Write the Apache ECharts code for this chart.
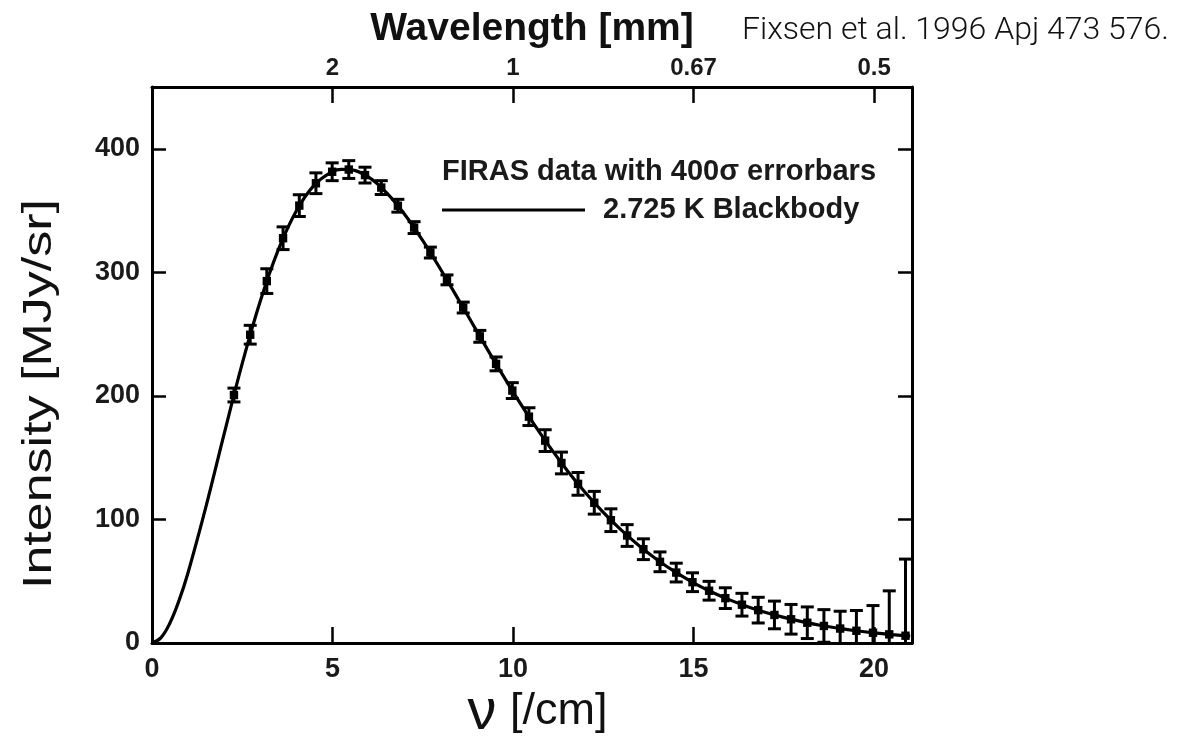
<!DOCTYPE html>
<html><head><meta charset="utf-8">
<script src="https://cdn.jsdelivr.net/npm/echarts@6/dist/echarts.min.js"></script>
<style>html,body{margin:0;padding:0;background:#fff}#c{width:1188px;height:740px}</style>
</head><body><div id="c"></div>
<script>
// 2.725 K blackbody curve (nu in /cm, intensity in MJy/sr)
const curveNu = [0,0.25,0.5,0.75,1,1.5,2,2.5,3,3.5,4,4.5,5,5.25,5.5,6,6.5,7,7.5,8,8.5,9,9.5,10,10.5,11,11.5,12,12.5,13,13.5,14,14.5,15,15.5,16,16.5,17,17.5,18,18.5,19,19.5,20,20.5,21];
const curveI  = [0,4.4,16.4,34.5,57.1,111.0,169.5,226.3,276.8,318.4,349.9,370.8,381.6,383.4,383.1,377.0,364.3,346.8,325.6,302.1,277.4,252.2,227.3,203.3,180.5,159.3,139.7,121.8,105.7,91.3,78.5,67.2,57.3,48.7,41.3,34.9,29.4,24.7,20.7,17.3,14.4,12.0,9.9,8.2,6.8,5.6];
// FIRAS data points with 400 sigma error bars
const dataNu  = [2.27,2.72,3.18,3.63,4.08,4.54,4.99,5.45,5.90,6.35,6.81,7.26,7.71,8.17,8.62,9.08,9.53,9.98,10.44,10.89,11.34,11.80,12.25,12.71,13.16,13.61,14.07,14.52,14.97,15.43,15.88,16.34,16.79,17.24,17.70,18.15,18.61,19.06,19.51,19.97,20.42,20.87];
const dataI   = [200.7,249.5,292.9,327.6,354.0,372.1,381.4,383.2,378.7,368.6,353.9,336.2,316.0,293.9,271.5,248.2,225.9,204.3,183.2,163.8,145.7,128.8,113.5,99.4,87.0,75.9,65.7,57.0,49.2,42.3,36.3,31.0,26.6,22.7,19.2,16.4,13.8,11.7,9.9,8.3,7.0,5.9];
const dataErr = [5.6,7.6,10.0,9.2,8.8,8.4,7.2,7.2,6.4,5.6,5.2,4.8,4.4,4.0,4.4,4.8,5.6,6.4,7.2,8.8,8.8,9.2,9.2,9.2,8.8,8.4,8.0,7.6,7.6,7.6,8.4,9.2,10.4,11.2,12.0,12.8,13.2,14.0,16.4,22.0,35.2,62.0];
// top axis: wavelength labels at these wavenumbers
const topTickNu = [5,10,15,20];
const topTickLabels = ['2','1','0.67','0.5'];

const chart = echarts.init(document.getElementById('c'));
const FONT = 'Liberation Sans, Arial, Helvetica, sans-serif';
const lineData = curveNu.map((v,i)=>[v, curveI[i]]);
const errData = dataNu.map((v,i)=>[v, dataI[i], dataErr[i]]);

const axisLineStyle = {color:'#000', width:3};
const tickStyle = {color:'#000', width:2.5};
const labelStyle = {fontFamily:FONT, fontWeight:'bold', fontSize:27, color:'#1a1a1a'};

chart.setOption({
  animation:false,
  backgroundColor:'#fff',
  grid:{left:152, right:276, top:87, bottom:97, containLabel:false},
  xAxis:[
    {type:'value', position:'bottom', min:0, max:21.05, interval:5,
     axisLine:{show:true, onZero:false, lineStyle:axisLineStyle},
     axisTick:{show:true, inside:true, length:16, lineStyle:tickStyle},
     axisLabel:Object.assign({margin:13, showMaxLabel:false}, labelStyle),
     splitLine:{show:false}
    },
    {type:'value', position:'top', min:0, max:21.05, interval:5,
     axisLine:{show:true, onZero:false, lineStyle:axisLineStyle},
     axisTick:{show:true, inside:true, length:16, lineStyle:tickStyle},
     axisLabel:{margin:7, showMaxLabel:false, showMinLabel:false, fontSize:24,
       fontFamily:FONT, fontWeight:'bold', color:'#1a1a1a',
       formatter:v=>{const k=topTickNu.indexOf(v); return k>=0?topTickLabels[k]:'';}},
     splitLine:{show:false},
     name:'Wavelength [mm]', nameLocation:'middle', nameGap:38,
     nameTextStyle:{fontFamily:FONT, fontWeight:'bold', fontSize:39, color:'#111'}
    }
  ],
  yAxis:[
    {type:'value', position:'left', min:0, max:450, interval:100,
     axisLine:{show:true, onZero:false, lineStyle:axisLineStyle},
     axisTick:{show:true, inside:true, length:14, lineStyle:tickStyle},
     axisLabel:Object.assign({margin:12, showMaxLabel:false}, labelStyle),
     splitLine:{show:false}
    },
    {type:'value', position:'right', min:0, max:450, interval:100,
     axisLine:{show:true, onZero:false, lineStyle:axisLineStyle},
     axisTick:{show:true, inside:true, length:14, lineStyle:tickStyle},
     axisLabel:{show:false}, splitLine:{show:false}
    }
  ],
  series:[
    {type:'line', name:'2.725 K Blackbody', data:lineData, smooth:0.4, showSymbol:false, symbol:'none',
     xAxisIndex:0, yAxisIndex:0, lineStyle:{color:'#000', width:3.2}, z:3},
    {type:'custom', name:'FIRAS', data:errData, xAxisIndex:0, yAxisIndex:0, clip:true, z:4,
     renderItem:function(params, api){
       const x=api.value(0), y=api.value(1), e=api.value(2);
       const t=api.coord([x,y+e]), b=api.coord([x,y-e]), c=api.coord([x,y]);
       const hw=6.5, s=4.2;
       const st={stroke:'#000', lineWidth:3};
       return {type:'group', children:[
         {type:'line', shape:{x1:t[0],y1:t[1],x2:b[0],y2:b[1]}, style:st},
         {type:'line', shape:{x1:t[0]-hw,y1:t[1],x2:t[0]+hw,y2:t[1]}, style:st},
         {type:'line', shape:{x1:b[0]-hw,y1:b[1],x2:b[0]+hw,y2:b[1]}, style:st},
         {type:'rect', shape:{x:c[0]-s,y:c[1]-s,width:2*s,height:2*s}, style:{fill:'#000'}}
       ]};
     }
    }
  ],
  graphic:[
    {type:'text', x:40, y:394, rotation:Math.PI/2, scaleX:1.3,
     style:{text:'Intensity [MJy/sr]', fontFamily:FONT, fontSize:40, fill:'#111', textAlign:'center', textVerticalAlign:'middle'}},
    {type:'text', x:482, y:713,
     style:{text:'ν', fontFamily:FONT, fontSize:58, fill:'#111', textAlign:'center', textVerticalAlign:'middle'}},
    {type:'text', x:510, y:712,
     style:{text:'[/cm]', fontFamily:FONT, fontSize:45, fill:'#111', textAlign:'left', textVerticalAlign:'middle'}},
    {type:'text', x:742, y:31,
     style:{text:'Fixsen et al. 1996 Apj 473 576.', fontFamily:'Roboto, Liberation Sans, sans-serif', fontWeight:300, fontSize:32, fill:'#111', textAlign:'left', textVerticalAlign:'middle'}},
    {type:'text', x:442, y:172,
     style:{text:'FIRAS data with 400σ errorbars', fontFamily:FONT, fontWeight:'bold', fontSize:29, fill:'#1a1a1a', textAlign:'left', textVerticalAlign:'middle'}},
    {type:'line', shape:{x1:442, y1:210, x2:585, y2:210}, style:{stroke:'#000', lineWidth:3}},
    {type:'text', x:603, y:210,
     style:{text:'2.725 K Blackbody', fontFamily:FONT, fontWeight:'bold', fontSize:29, fill:'#1a1a1a', textAlign:'left', textVerticalAlign:'middle'}}
  ]
});
</script></body></html>
